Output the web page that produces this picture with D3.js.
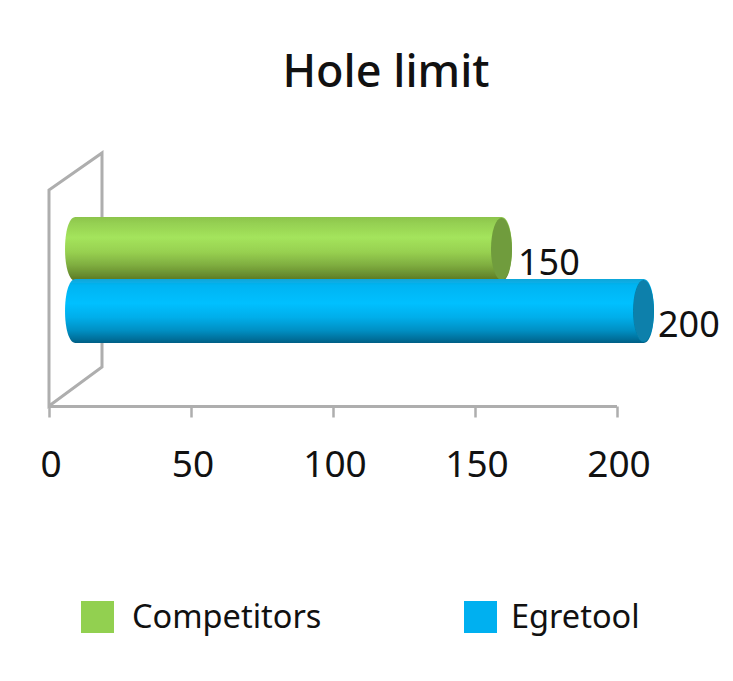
<!DOCTYPE html>
<html><head><meta charset="utf-8">
<script src="https://cdn.jsdelivr.net/npm/d3@7"></script>
<style>html,body{margin:0;background:#fff}svg{display:block}text{font-family:"Noto Sans",sans-serif;fill:#111}</style>
</head><body><svg id="c" width="733" height="681"></svg>
<script>
const chartTitle = "Hole limit";
const categories = ["Competitors", "Egretool"];
const seriesValues = [150, 200];
const tickValues = [0, 50, 100, 150, 200];
const sideColors = ["#92d050", "#00b0f0"];

const svg = d3.select("#c");
const x = d3.scaleLinear().domain([0, 200]).range([49, 617]);
const band = d3.scaleBand().domain(categories).range([217, 343]).padding(0);
const depthX = 26.5, rx = 10.5;

const defs = svg.append("defs");
defs.append("filter").attr("id","soft").append("feGaussianBlur").attr("stdDeviation",0.7);
const grads = [
  [["0","#8cc44c"],["0.1","#95d052"],["0.32","#a4e45c"],["0.55","#97d050"],["0.75","#7fae40"],["0.92","#66892c"],["1","#5a7420"]],
  [["0","#12a6d8"],["0.1","#00b4f2"],["0.38","#00c0ff"],["0.6","#00aeea"],["0.8","#0590c4"],["0.94","#056f9a"],["1","#055f85"]]
];
grads.forEach((g,i)=>{
  const lg = defs.append("linearGradient").attr("id","g"+i).attr("x1",0).attr("x2",0).attr("y1",0).attr("y2",1);
  g.forEach(s=>lg.append("stop").attr("offset",s[0]).attr("stop-color",s[1]));
});
const capColors = ["#6f9c3c","#0780ab"];

// back wall
const wall = d3.path();
wall.moveTo(x(0),406); wall.lineTo(x(0),190); wall.lineTo(x(0)+53,153); wall.lineTo(x(0)+53,367); wall.closePath();
svg.append("path").attr("d",wall.toString()).attr("fill","none").attr("stroke","#aeaeae").attr("stroke-width",3).attr("filter","url(#soft)");

// axis
const axis = d3.axisBottom(x).tickValues(tickValues).tickSize(11).tickPadding(33).tickFormat(d3.format("d"));
const ax = svg.append("g").attr("transform","translate(0,406.5)").call(axis);
ax.select(".domain").attr("stroke","#aeaeae").attr("stroke-width",3).attr("d","M49,0H617");
ax.selectAll(".tick line").attr("stroke","#aeaeae").attr("stroke-width",2.5);
ax.selectAll("text").attr("font-size",37).attr("fill","#111").attr("dx",1.5).style("font-family",'"Noto Sans",sans-serif');

// bars
const barLayer = svg.append("g").attr("filter","url(#soft)");
categories.forEach((c,i)=>{
  const top = band(c) + (i===0?0:-1), h = 64, cy = top + h/2;
  const xl = x(0) + depthX, xr = x(seriesValues[i]) + depthX;
  const p = d3.path();
  p.moveTo(xl, top); p.lineTo(xr, top);
  p.bezierCurveTo(xr+rx*1.33, top, xr+rx*1.33, top+h, xr, top+h);
  p.lineTo(xl, top+h);
  p.bezierCurveTo(xl-rx*1.33, top+h, xl-rx*1.33, top, xl, top);
  p.closePath();
  barLayer.append("path").attr("d",p.toString()).attr("fill",`url(#g${i})`);
  barLayer.append("ellipse").attr("cx",xr).attr("cy",cy).attr("rx",rx).attr("ry",h/2-1).attr("fill",capColors[i]);
});
// value labels, above the bars
categories.forEach((c,i)=>{
  const top = band(c) + (i===0?0:-1), cy = top + 32;
  const xr = x(seriesValues[i]) + depthX;
  svg.append("text").attr("x",xr+rx+(i===0?6:4)).attr("y",cy+26).attr("font-size",36).text(seriesValues[i]);
});

// title
svg.append("text").attr("x",386).attr("y",87).attr("text-anchor","middle").attr("font-size",45).attr("font-weight",500).text(chartTitle);

// legend
const legendX = [81, 464], legendTextX = [132, 511];
categories.forEach((c,i)=>{
  svg.append("rect").attr("x",legendX[i]).attr("y",601).attr("width",33).attr("height",32).attr("fill",sideColors[i]);
  svg.append("text").attr("x",legendTextX[i]).attr("y",628).attr("font-size",32.5).text(c);
});
</script></body></html>
